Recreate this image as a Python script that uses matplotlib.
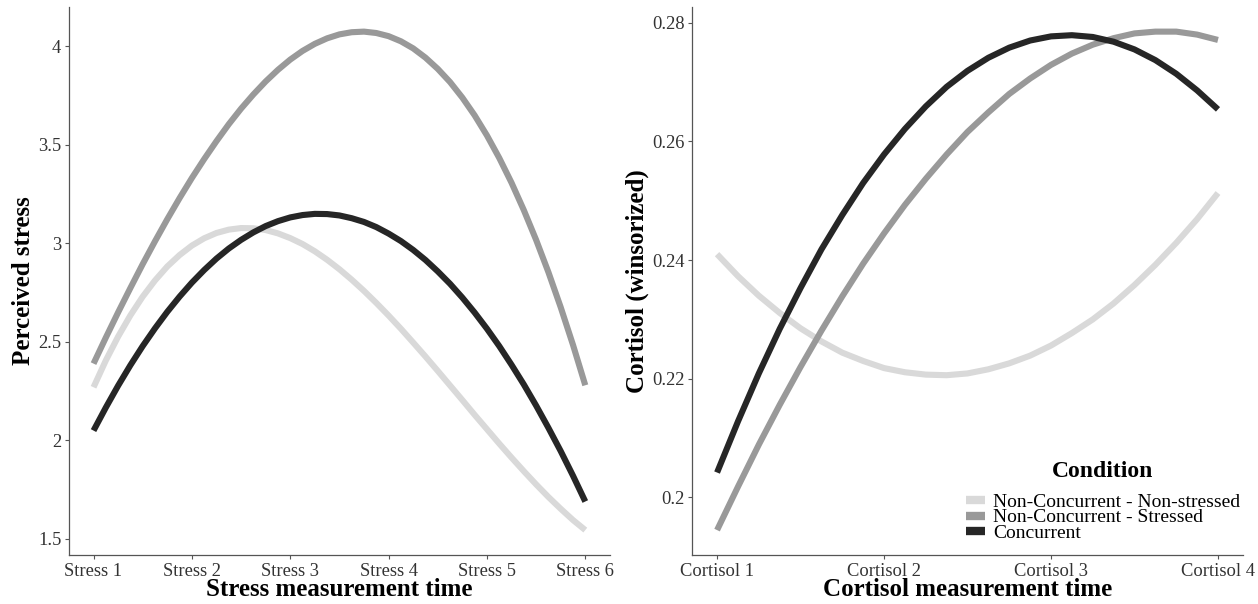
import matplotlib
matplotlib.use("Agg")
import matplotlib.pyplot as plt
from matplotlib.lines import Line2D

plt.rcParams["font.family"] = ["Liberation Serif", "DejaVu Serif"]

# Condition labels and their grey levels
CONDITIONS = ["Non-Concurrent - Non-stressed", "Non-Concurrent - Stressed", "Concurrent"]
COLORS = ["#d9d9d9", "#999999", "#262626"]

# Perceived stress: fitted trend, sampled every eighth of a measurement
STRESS_TICKS = ["Stress 1", "Stress 2", "Stress 3", "Stress 4", "Stress 5", "Stress 6"]
STRESS_T = [1.0, 1.125, 1.25, 1.375, 1.5, 1.625, 1.75, 1.875,
            2.0, 2.125, 2.25, 2.375, 2.5, 2.625, 2.75, 2.875,
            3.0, 3.125, 3.25, 3.375, 3.5, 3.625, 3.75, 3.875,
            4.0, 4.125, 4.25, 4.375, 4.5, 4.625, 4.75, 4.875,
            5.0, 5.125, 5.25, 5.375, 5.5, 5.625, 5.75, 5.875, 6.0]
STRESS_NC_NS = [2.270, 2.406, 2.527, 2.635, 2.730, 2.812, 2.883, 2.941,
                2.989, 3.026, 3.053, 3.070, 3.078, 3.077, 3.068, 3.051,
                3.027, 2.997, 2.960, 2.917, 2.869, 2.816, 2.759, 2.698,
                2.634, 2.567, 2.497, 2.426, 2.353, 2.279, 2.205, 2.130,
                2.057, 1.984, 1.913, 1.844, 1.777, 1.713, 1.653, 1.596, 1.545]
STRESS_NC_S = [2.390, 2.522, 2.650, 2.774, 2.895, 3.011, 3.123, 3.230,
               3.332, 3.428, 3.519, 3.605, 3.684, 3.756, 3.822, 3.881,
               3.933, 3.977, 4.013, 4.041, 4.061, 4.072, 4.075, 4.068,
               4.052, 4.026, 3.990, 3.943, 3.886, 3.819, 3.740, 3.650,
               3.548, 3.434, 3.308, 3.169, 3.018, 2.854, 2.676, 2.485, 2.280]
STRESS_CONC = [2.050, 2.167, 2.278, 2.382, 2.479, 2.569, 2.653, 2.730,
               2.801, 2.865, 2.923, 2.974, 3.018, 3.056, 3.088, 3.113,
               3.132, 3.144, 3.150, 3.149, 3.142, 3.128, 3.109, 3.083,
               3.050, 3.012, 2.967, 2.916, 2.858, 2.795, 2.725, 2.649,
               2.567, 2.479, 2.384, 2.284, 2.177, 2.064, 1.946, 1.821, 1.690]
STRESS_YTICKS = [1.5, 2.0, 2.5, 3.0, 3.5, 4.0]
STRESS_YLABELS = ["1.5", "2", "2.5", "3", "3.5", "4"]

# Cortisol (winsorized): fitted trend, sampled every eighth of a measurement
CORTISOL_TICKS = ["Cortisol 1", "Cortisol 2", "Cortisol 3", "Cortisol 4"]
CORTISOL_T = [1.0, 1.125, 1.25, 1.375, 1.5, 1.625, 1.75, 1.875,
              2.0, 2.125, 2.25, 2.375, 2.5, 2.625, 2.75, 2.875,
              3.0, 3.125, 3.25, 3.375, 3.5, 3.625, 3.75, 3.875, 4.0]
CORT_NC_NS = [0.2410, 0.2373, 0.2340, 0.2311, 0.2285, 0.2263, 0.2244, 0.2230,
              0.2218, 0.2211, 0.2207, 0.2206, 0.2209, 0.2216, 0.2226, 0.2239,
              0.2256, 0.2277, 0.2300, 0.2327, 0.2358, 0.2392, 0.2429, 0.2469, 0.2513]
CORT_NC_S = [0.1945, 0.2018, 0.2089, 0.2156, 0.2220, 0.2281, 0.2339, 0.2394,
             0.2445, 0.2493, 0.2537, 0.2578, 0.2616, 0.2649, 0.2680, 0.2706,
             0.2729, 0.2748, 0.2763, 0.2774, 0.2782, 0.2785, 0.2785, 0.2780, 0.2771]
CORT_CONC = [0.2042, 0.2128, 0.2209, 0.2284, 0.2353, 0.2418, 0.2476, 0.2530,
             0.2578, 0.2621, 0.2659, 0.2692, 0.2719, 0.2741, 0.2758, 0.2770,
             0.2777, 0.2779, 0.2776, 0.2768, 0.2755, 0.2737, 0.2714, 0.2686, 0.2654]
CORT_YTICKS = [0.20, 0.22, 0.24, 0.26, 0.28]
CORT_YLABELS = ["0.2", "0.22", "0.24", "0.26", "0.28"]

AXIS_GREY = "#555555"
TICK_TEXT = "#333333"


def expanded(lo, hi, frac=0.05):
  pad = (hi - lo) * frac
  return lo - pad, hi + pad


def style_axis(ax, xticklabels, yticks, yticklabels, xlabel, ylabel, ylabelpad):
  for side in ("top", "right"):
    ax.spines[side].set_visible(False)
  for side in ("left", "bottom"):
    ax.spines[side].set_color(AXIS_GREY)
    ax.spines[side].set_linewidth(0.9)
  n = len(xticklabels)
  ax.set_xticks(range(1, n + 1))
  ax.set_xticklabels(xticklabels)
  ax.set_xlim(*expanded(1, n))
  ax.set_yticks(yticks)
  ax.set_yticklabels(yticklabels)
  ax.tick_params(axis="both", length=3, width=0.8, color=AXIS_GREY,
                 labelsize=13.3, labelcolor=TICK_TEXT, pad=2.5)
  ax.set_xlabel(xlabel, fontsize=18, fontweight="bold", labelpad=-1)
  ax.set_ylabel(ylabel, fontsize=18, fontweight="bold", labelpad=ylabelpad)


fig = plt.figure(figsize=(12.58, 6.04), dpi=100)
ax_s = fig.add_axes([0.0548, 0.0811, 0.4300, 0.9078])
ax_c = fig.add_axes([0.5501, 0.0811, 0.4380, 0.9078])

line_kw = dict(linewidth=4.4, solid_capstyle="butt", solid_joinstyle="round")

# Perceived stress panel
for ys, col in zip([STRESS_NC_NS, STRESS_NC_S, STRESS_CONC], COLORS):
  ax_s.plot(STRESS_T, ys, color=col, **line_kw)
all_s = STRESS_NC_NS + STRESS_NC_S + STRESS_CONC
ax_s.set_ylim(*expanded(min(all_s), max(all_s)))
style_axis(ax_s, STRESS_TICKS, STRESS_YTICKS, STRESS_YLABELS,
           "Stress measurement time", "Perceived stress", 2)

# Cortisol panel
for ys, col in zip([CORT_NC_NS, CORT_NC_S, CORT_CONC], COLORS):
  ax_c.plot(CORTISOL_T, ys, color=col, **line_kw)
all_c = CORT_NC_NS + CORT_NC_S + CORT_CONC
ax_c.set_ylim(*expanded(min(all_c), max(all_c)))
style_axis(ax_c, CORTISOL_TICKS, CORT_YTICKS, CORT_YLABELS,
           "Cortisol measurement time", "Cortisol (winsorized)", 2)

# Legend keys as short thick bars
handles = [Line2D([], [], color=c, linewidth=6, solid_capstyle="butt") for c in COLORS]
leg = ax_c.legend(handles, CONDITIONS, title="Condition", loc="lower right",
                  bbox_to_anchor=(1240 / 1258, 62 / 604), bbox_transform=fig.transFigure,
                  frameon=False, prop={"size": 14}, labelspacing=-0.1,
                  handlelength=1.0, handletextpad=0.4, borderaxespad=0, borderpad=0)
leg.get_title().set_fontsize(17)
leg.get_title().set_fontweight("bold")
# a little air between the legend title and its entries
leg._legend_box.sep = 8

fig.savefig("out.png", dpi=100)
